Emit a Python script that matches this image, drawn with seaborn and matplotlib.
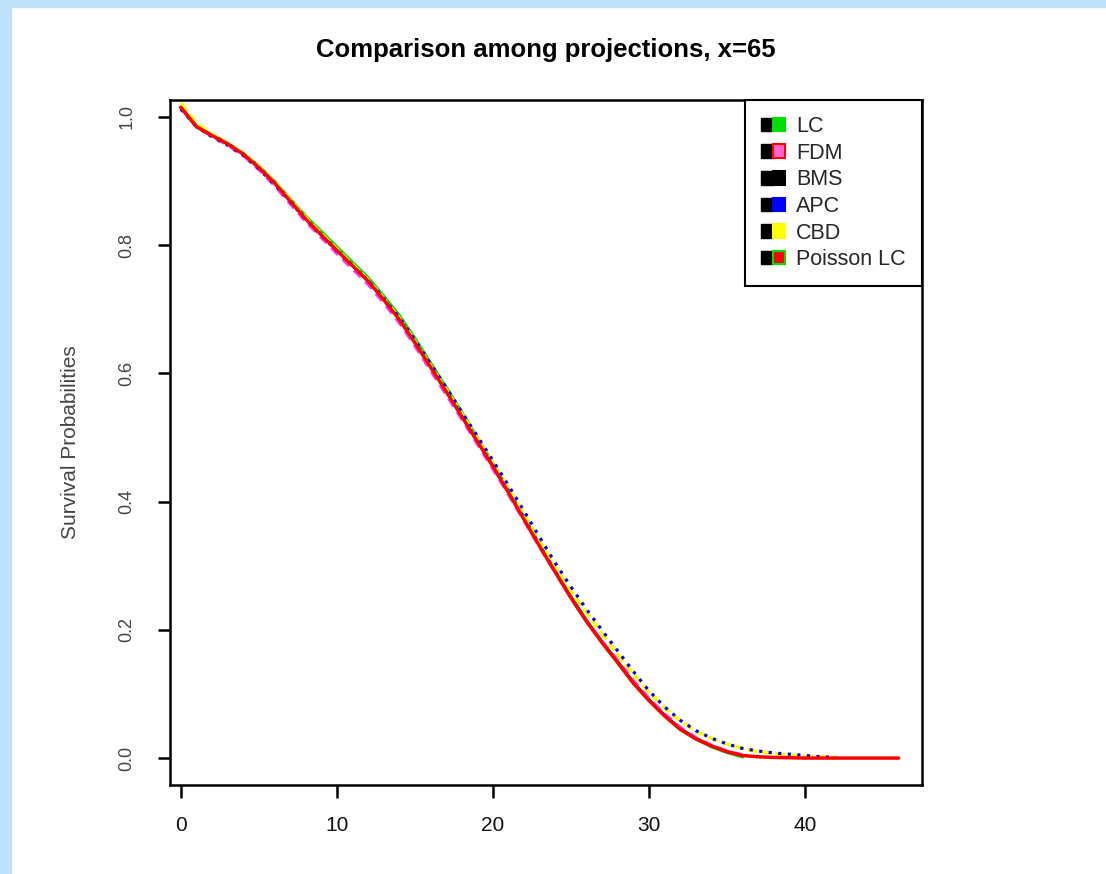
import numpy as np
import pandas as pd
import matplotlib
matplotlib.use('Agg')
import matplotlib.pyplot as plt
import seaborn as sns
from matplotlib.patches import Patch, Rectangle
from matplotlib.legend_handler import HandlerTuple

# survival probabilities, one value per year from 0
lc = [1.015, 0.985, 0.972, 0.959, 0.943, 0.923, 0.899, 0.872, 0.845, 0.821, 0.797,
      0.773, 0.749, 0.720, 0.690, 0.654, 0.616, 0.578, 0.539, 0.499, 0.459, 0.418,
      0.375, 0.332, 0.291, 0.251, 0.214, 0.180, 0.149, 0.117, 0.090, 0.066, 0.045,
      0.030, 0.018, 0.009, 0.002]
fdm = [1.015, 0.984, 0.970, 0.956, 0.940, 0.918, 0.893, 0.865, 0.837, 0.812, 0.787,
       0.763, 0.739, 0.710, 0.679, 0.643, 0.605, 0.567, 0.529, 0.490, 0.451, 0.411,
       0.370, 0.329, 0.289, 0.250, 0.214, 0.182, 0.152, 0.121, 0.093, 0.069, 0.048,
       0.032, 0.020, 0.011, 0.005]
bms = [1.015, 0.985, 0.971, 0.958, 0.942, 0.921, 0.897, 0.869, 0.841, 0.816, 0.792,
       0.768, 0.744, 0.715, 0.684, 0.648, 0.610, 0.572, 0.533, 0.494, 0.455, 0.414,
       0.373, 0.331, 0.291, 0.251, 0.214, 0.181, 0.150, 0.118, 0.091, 0.067, 0.046,
       0.031, 0.019, 0.010, 0.004]
apc = [1.012, 0.985, 0.969, 0.956, 0.940, 0.919, 0.895, 0.868, 0.840, 0.815, 0.791,
       0.768, 0.745, 0.717, 0.687, 0.652, 0.615, 0.578, 0.540, 0.502, 0.464, 0.425,
       0.385, 0.344, 0.304, 0.267, 0.232, 0.199, 0.167, 0.135, 0.105, 0.080, 0.059,
       0.043, 0.031, 0.022, 0.015, 0.011, 0.008, 0.006, 0.004, 0.002, 0.001]
cbd = [1.022, 0.990, 0.973, 0.959, 0.943, 0.922, 0.898, 0.871, 0.843, 0.818, 0.794,
       0.770, 0.746, 0.717, 0.686, 0.650, 0.612, 0.575, 0.537, 0.498, 0.459, 0.420,
       0.380, 0.338, 0.298, 0.261, 0.227, 0.194, 0.162, 0.131, 0.103, 0.079, 0.058,
       0.042, 0.031, 0.022, 0.015, 0.010, 0.007, 0.005, 0.003, 0.002, 0.001]
poisson_lc = [1.015, 0.985, 0.971, 0.958, 0.942, 0.921, 0.897, 0.869, 0.841, 0.816, 0.792,
              0.768, 0.744, 0.715, 0.684, 0.648, 0.610, 0.572, 0.533, 0.494, 0.455, 0.414,
              0.372, 0.330, 0.290, 0.250, 0.213, 0.180, 0.149, 0.117, 0.090, 0.066, 0.045,
              0.030, 0.019, 0.010, 0.004, 0.002, 0.001, 0.0005, 0.0, 0.0, 0.0, 0.0,
              0.0, 0.0, 0.0]

xticks = [0, 10, 20, 30, 40]
yticks = [0.0, 0.2, 0.4, 0.6, 0.8, 1.0]

sns.set_style('white')
plt.rcParams['font.family'] = ['Liberation Sans', 'DejaVu Sans']

fig = plt.figure(figsize=(11.06, 8.74), dpi=100)
fig.patch.set_facecolor('white')
# light blue frame at top and left
fig.patches.append(Rectangle((0, 1 - 7 / 874), 1, 7 / 874, transform=fig.transFigure,
                             color='#c0e1fa', zorder=0))
fig.patches.append(Rectangle((0, 0), 11 / 1106, 1, transform=fig.transFigure,
                             color='#c0e1fa', zorder=0))

ax = fig.add_axes([170 / 1106, 1 - 785 / 874, 752 / 1106, 685 / 874])

# (values, colour, linestyle, width) in drawing order
series = [
    (lc, '#00dd00', '-', 2.5),
    (bms, 'black', '-', 2.0),
    (cbd, '#ffff00', (0, (3, 1)), 2.5),
    (fdm, '#ff33ff', (0, (3, 2)), 2.3),
    (apc, '#0000ff', (0, (1, 2)), 2.3),
    (poisson_lc, '#ff0000', '-', 2.5),
]
for vals, col, ls, lw in series:
    yrs = np.arange(len(vals))
    sns.lineplot(x=yrs, y=vals, color=col, linestyle=ls, linewidth=lw, ax=ax)

ax.set_xlim(-0.7, 47.5)
ax.set_ylim(-0.042, 1.0265)
ax.set_xticks(xticks)
ax.set_xticklabels([str(t) for t in xticks], fontsize=15, color='#111111')
ax.set_yticks(yticks)
ax.set_yticklabels([f'{t:.1f}' for t in yticks], fontsize=13, rotation=90,
                   va='center', color='#444444')
ax.tick_params(axis='both', direction='out', length=9, width=1.8, color='black',
               bottom=True, left=True)
ax.tick_params(axis='x', pad=13)
ax.tick_params(axis='y', pad=16)
for sp in ax.spines.values():
    sp.set_visible(True)
    sp.set_linewidth(1.8)
    sp.set_color('black')

ax.set_xlabel('')
ax.set_ylabel('Survival Probabilities', fontsize=15, color='#444444')
ax.yaxis.set_label_coords(-0.12, 0.5)

fig.text(546 / 1106, 1 - 50 / 874, 'Comparison among projections, x=65',
         ha='center', va='center', fontsize=18.5, fontweight='bold', color='black')

# legend keys: black block followed by the model colour
names = ['LC', 'FDM', 'BMS', 'APC', 'CBD', 'Poisson LC']
key_fill = ['#00dd00', '#ff66cc', 'black', '#0000ff', '#ffff00', '#ff0000']
key_edge = ['#00dd00', '#ff0000', 'black', '#0000ff', '#ffff00', '#00dd00']
handles = []
for fc, ec in zip(key_fill, key_edge):
    handles.append((Patch(facecolor='black', edgecolor='black'),
                    Patch(facecolor=fc, edgecolor=ec, linewidth=1.5)))
leg = ax.legend(handles, names, loc='upper right', borderaxespad=0,
                handler_map={tuple: HandlerTuple(ndivide=None, pad=0)},
                fontsize=15.5, handlelength=1.15, handleheight=0.6,
                handletextpad=0.5, labelspacing=0.26, borderpad=0.75,
                fancybox=False, framealpha=1, edgecolor='black')
leg.get_frame().set_linewidth(1.5)

fig.savefig('out.png', dpi=100, facecolor='white')
